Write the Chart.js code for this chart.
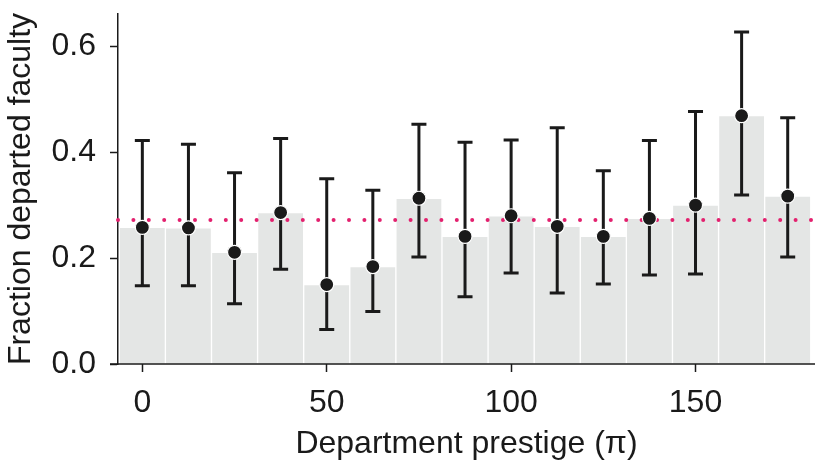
<!DOCTYPE html>
<html>
<head>
<meta charset="utf-8">
<script src="https://cdn.jsdelivr.net/npm/chart.js@4.4.1/dist/chart.umd.min.js"></script>
<style>
  html, body { margin: 0; padding: 0; background: #fff; }
  #wrap { width: 816px; height: 463px; }
</style>
</head>
<body>
<div id="wrap"><canvas id="chart" width="816" height="463"></canvas></div>
<script>
// department prestige bins (bin centres)
const prestige = [0, 12.5, 25, 37.5, 50, 62.5, 75, 87.5, 100, 112.5, 125, 137.5, 150, 162.5, 175];
// fraction of departed faculty per bin
const fraction = [0.258, 0.257, 0.211, 0.286, 0.150, 0.184, 0.313, 0.241, 0.280, 0.260, 0.241, 0.275, 0.300, 0.469, 0.317];
// error bar ends
const errLow  = [0.148, 0.148, 0.114, 0.179, 0.065, 0.099, 0.202, 0.127, 0.172, 0.134, 0.151, 0.168, 0.170, 0.319, 0.202];
const errHigh = [0.422, 0.415, 0.361, 0.426, 0.350, 0.328, 0.453, 0.419, 0.423, 0.446, 0.365, 0.422, 0.477, 0.627, 0.465];
// overall mean (dotted line)
const overall = 0.272;
const xTicks = [0, 50, 100, 150];
const yTicks = [0, 0.2, 0.4, 0.6];

const ink = '#1a1a1a';
const font = 'Liberation Sans, Arial, Helvetica, sans-serif';

const points = prestige.map((x, i) => ({ x: x, y: fraction[i] }));

// dotted mean line + error bars, drawn under the dots
const extras = {
  id: 'extras',
  beforeDatasetDraw(chart, args) {
    if (args.index !== 0) return;
    const { ctx, chartArea } = chart;
    const xs = chart.scales.x, ys = chart.scales.y;
    ctx.save();
    // mean line
    const yy = ys.getPixelForValue(overall);
    ctx.strokeStyle = '#e3206e';
    ctx.lineWidth = 4;
    ctx.lineCap = 'round';
    ctx.setLineDash([0, 15.4]);
    ctx.beginPath();
    ctx.moveTo(chartArea.left, yy);
    ctx.lineTo(chartArea.right, yy);
    ctx.stroke();
    ctx.setLineDash([]);
    // error bars
    ctx.strokeStyle = ink;
    ctx.lineWidth = 3;
    ctx.lineCap = 'butt';
    prestige.forEach((x, i) => {
      const px = xs.getPixelForValue(x);
      const lo = ys.getPixelForValue(errLow[i]);
      const hi = ys.getPixelForValue(errHigh[i]);
      ctx.beginPath();
      ctx.moveTo(px, lo); ctx.lineTo(px, hi);
      ctx.moveTo(px - 7.5, lo); ctx.lineTo(px + 7.5, lo);
      ctx.moveTo(px - 7.5, hi); ctx.lineTo(px + 7.5, hi);
      ctx.stroke();
    });
    ctx.restore();
  },
  afterDraw(chart) {
    // bottom spine, extended under the y tick length
    const { ctx, chartArea } = chart;
    ctx.save();
    ctx.strokeStyle = ink;
    ctx.lineWidth = 1.5;
    ctx.beginPath();
    ctx.moveTo(chartArea.left - 8, chartArea.bottom);
    ctx.lineTo(chartArea.right, chartArea.bottom);
    ctx.stroke();
    ctx.restore();
  }
};

new Chart(document.getElementById('chart'), {
  type: 'bar',
  data: {
    datasets: [
      {
        type: 'line',
        data: points,
        showLine: false,
        pointRadius: 7,
        pointHoverRadius: 7,
        pointBackgroundColor: ink,
        pointBorderColor: '#ffffff',
        pointBorderWidth: 1.2,
        order: 1
      },
      {
        type: 'bar',
        data: points,
        backgroundColor: '#e4e6e5',
        borderColor: '#ffffff',
        borderWidth: 1,
        barPercentage: 1,
        categoryPercentage: 1,
        order: 2
      }
    ]
  },
  options: {
    responsive: false,
    animation: false,
    layout: { autoPadding: false, padding: { top: 14, right: 1, left: 0, bottom: 0 } },
    plugins: { legend: { display: false }, tooltip: { enabled: false } },
    scales: {
      x: {
        type: 'linear',
        offset: false,
        min: -6.6,
        max: 182.4,
        afterBuildTicks: s => { s.ticks = xTicks.map(v => ({ value: v })); },
        afterFit: s => { s.height = 99; s.paddingLeft = 0; s.paddingRight = 0; },
        border: { display: false },
        grid: { offset: false, drawOnChartArea: false, tickLength: 8, color: ink, tickWidth: 1.5 },
        ticks: { color: ink, font: { family: font, size: 32 }, padding: 12, maxRotation: 0 },
        title: { display: true, text: 'Department prestige (π)', color: ink, font: { family: font, size: 32 }, padding: { top: 0, bottom: 0 } }
      },
      y: {
        min: 0,
        max: 0.661,
        afterBuildTicks: s => { s.ticks = yTicks.map(v => ({ value: v })); },
        afterFit: s => { s.width = 118; s.paddingTop = 0; s.paddingBottom = 0; },
        border: { display: true, color: ink, width: 1.5 },
        grid: { drawOnChartArea: false, tickLength: 8, color: ink, tickWidth: 1.5 },
        ticks: { color: ink, font: { family: font, size: 32 }, padding: 14, callback: v => v.toFixed(1) },
        title: { display: true, text: 'Fraction departed faculty', color: ink, font: { family: font, size: 32 }, padding: { top: 2, bottom: 0 } }
      }
    }
  },
  plugins: [extras]
});
</script>
</body>
</html>
